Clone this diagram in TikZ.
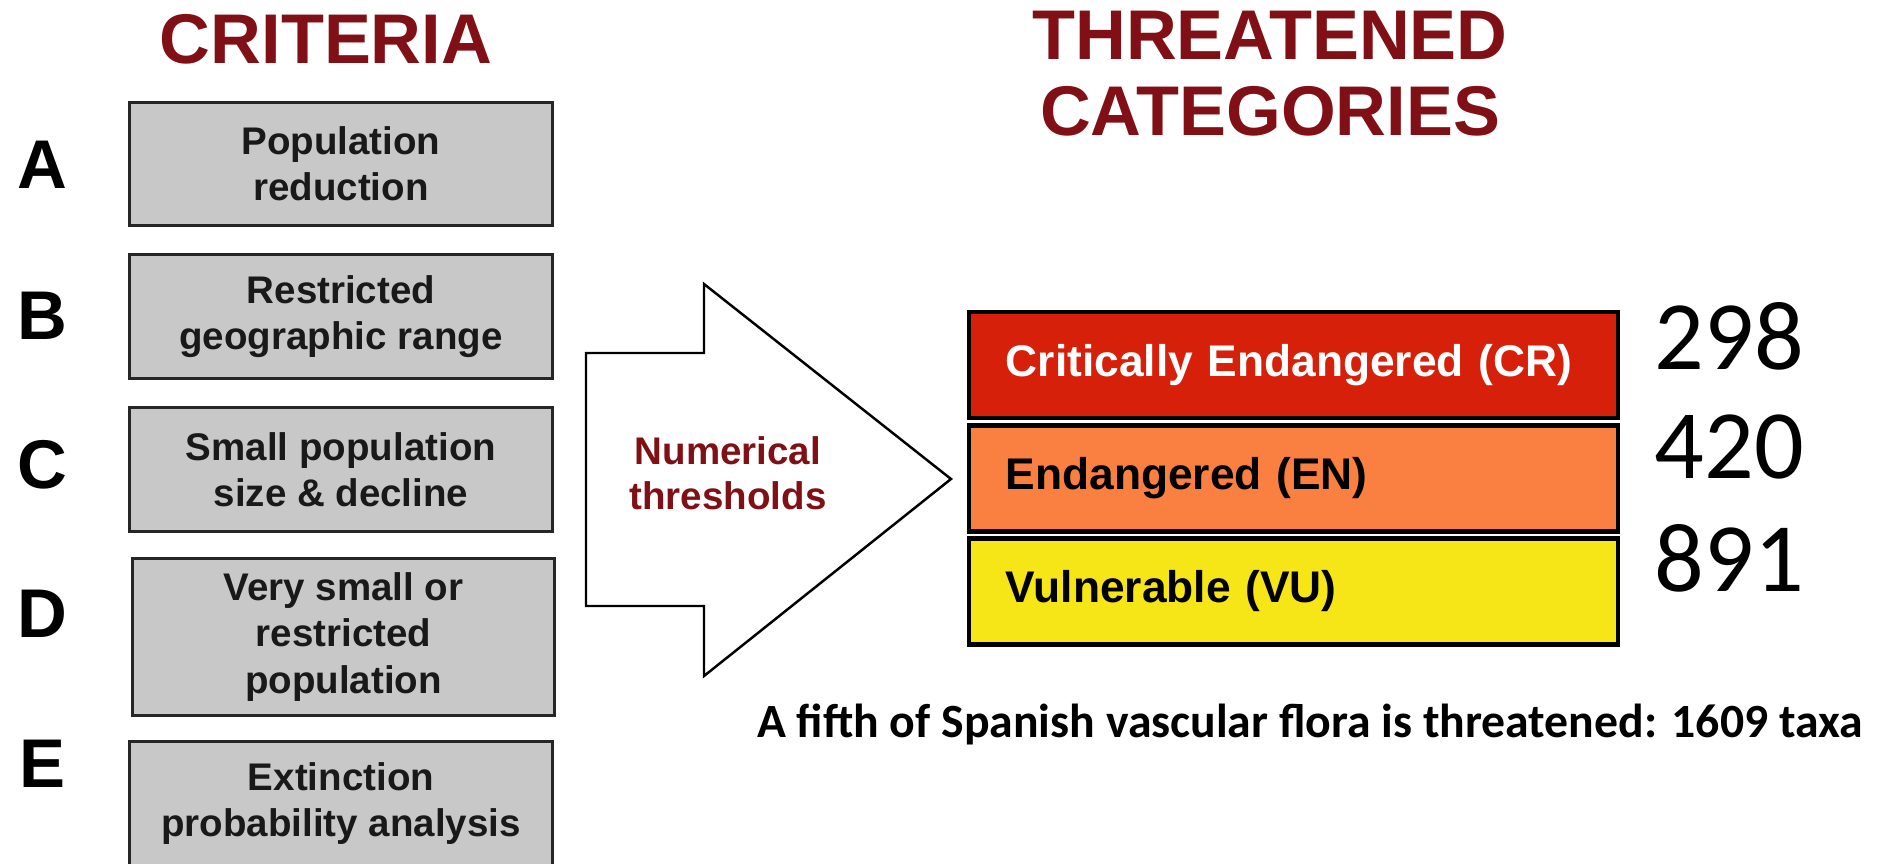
\documentclass[tikz,border=0pt]{standalone}
\usepackage{fontspec}
\setmainfont{Liberation Sans}
\newfontfamily\carlito{Carlito}
\usepackage{xcolor}
\definecolor{darkred}{RGB}{128,16,22}
\definecolor{boxgray}{RGB}{200,200,200}
\definecolor{crred}{RGB}{214,32,10}
\definecolor{enorange}{RGB}{249,128,64}
\definecolor{vuyellow}{RGB}{246,230,24}

\begin{document}
\begin{tikzpicture}[x=0.01cm,y=-0.01cm,
    title/.style={inner sep=0pt,text=darkred,font=\fontsize{20}{21.6}\selectfont\bfseries},
    letter/.style={inner sep=0pt,font=\fontsize{19.6}{21}\selectfont\bfseries},
    crit/.style={draw=black!85,line width=0.85pt,fill=boxgray,minimum width=4.22cm,minimum height=1.23cm,
      inner sep=0pt,align=center,text=black!90,font=\fontsize{10.95}{13.1}\selectfont\bfseries},
    cat/.style={draw=black,line width=1.3pt,minimum height=1.06cm,text width=5.75cm,inner xsep=0.37cm,
      inner ysep=0pt,align=left,font=\fontsize{12.6}{15}\selectfont\bfseries},
    count/.style={anchor=west,inner sep=0pt,font=\carlito\fontsize{27.9}{30}\selectfont}]
      \useasboundingbox (0,0) rectangle (1893,863);
      \clip (0,0) rectangle (1893,863);
      \fill[white] (0,0) rectangle (1893,863);
      % headings
      \node[title,anchor=base] (crit) at (326,63) {CRITERIA};
      \node[title,anchor=north,align=center] (threat) at (1270,10) {THREATENED\\CATEGORIES};
      % criteria A-E
      \node[letter] (la) at (42,165) {A};
      \node[letter] (lb) at (42,316) {B};
      \node[letter] (lc) at (42,465) {C};
      \node[letter] (ld) at (42,614) {D};
      \node[letter] (le) at (42,764) {E};
      \node[crit] (ba) at (341,164) {Population\\reduction};
      \node[crit] (bb) at (341,316.5) {Restricted\\geographic range};
      \node[crit] (bc) at (341,469.5) {Small population\\size \& decline};
      \node[crit,minimum height=1.56cm] (bd) at (343.5,637) {Very small or\\restricted\\population};
      \node[crit] (be) at (341,803.5) {Extinction\\probability analysis};
      % big arrow
      \draw[line width=0.7pt,fill=white] (586,353) -- (704,353) -- (704,284) -- (951,479)
        -- (704,676) -- (704,606) -- (586,606) -- cycle;
      \node[inner sep=0pt,align=center,text=darkred,font=\fontsize{10.95}{12.8}\selectfont\bfseries]
        (thr) at (728,473) {Numerical\\thresholds};
      % categories
      \node[cat,fill=crred,text=white] (cr) at (1293.5,365) {Critically Endangered (CR)};
      \node[cat,fill=enorange] (en) at (1293.5,478.5) {Endangered (EN)};
      \node[cat,fill=vuyellow] (vu) at (1293.5,591.5) {Vulnerable (VU)};
      \node[count] (ncr) at (1654,336) {298};
      \node[count] (nen) at (1654,447) {420};
      \node[count] (nvu) at (1654,558) {891};
      \node[anchor=base,inner sep=0pt,font=\carlito\bfseries\fontsize{13.57}{16}\selectfont]
        (sum) at (1310,737) {A fifth of Spanish vascular flora is threatened: 1609 taxa};
    \end{tikzpicture}
\end{document}
